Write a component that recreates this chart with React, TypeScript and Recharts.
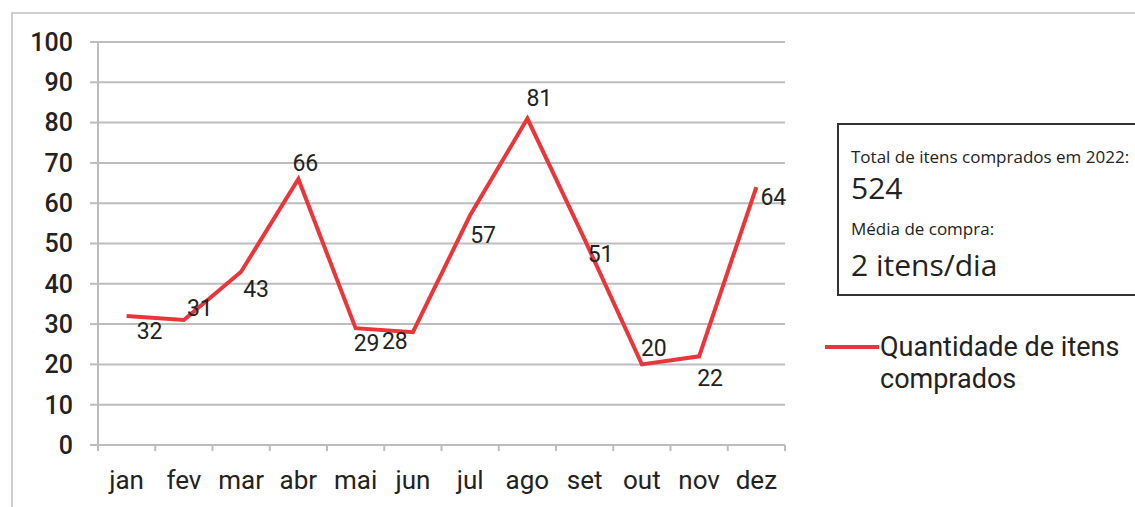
import { LineChart, Line, XAxis, YAxis, CartesianGrid, Legend, LabelList } from 'recharts';

const months = ['jan', 'fev', 'mar', 'abr', 'mai', 'jun', 'jul', 'ago', 'set', 'out', 'nov', 'dez'];
const quantities = [32, 31, 43, 66, 29, 28, 57, 81, 51, 20, 22, 64];
const yTicks = [0, 10, 20, 30, 40, 50, 60, 70, 80, 90, 100];

const seriesName = 'Quantidade de itens comprados';
const totalLabel = 'Total de itens comprados em 2022:';
const totalValue = '524';
const avgLabel = 'Média de compra:';
const avgValue = '2 itens/dia';

// label nudges (px) so the numbers sit where the original puts them
const LABEL_OFFSETS: [number, number][] = [
  [23, 15], [16, -12], [15, 18], [7, -16], [11, 15], [-18, 9],
  [13, 20], [12, -20], [16, 15], [12, -16], [11, 22], [17, 10],
];

const RED = '#e8363b';
const GRID = '#bdbdbd';
const FONT = 'Roboto, sans-serif';

const data = months.map((m, i) => ({ month: m, value: quantities[i] }));

const MonthTick = ({ x, y, payload, index }: any) => {
  const half = payload?.offset || 28.6;
  const last = index === months.length - 1;
  return (
    <g>
      <line x1={x - half} x2={x - half} y1={y - 8} y2={y - 2} stroke={GRID} strokeWidth={2} />
      {last && <line x1={x + half} x2={x + half} y1={y - 8} y2={y - 2} stroke={GRID} strokeWidth={2} />}
      <text x={x} y={y + 36} textAnchor="middle" fontFamily={FONT} fontSize={26} fill="#222">
        {payload.value}
      </text>
    </g>
  );
};

const ValueLabel = ({ x, y, value, index }: any) => {
  const [dx, dy] = LABEL_OFFSETS[index] || [0, 0];
  return (
    <text x={x + dx} y={y + dy} textAnchor="middle" dominantBaseline="central" fontFamily={FONT} fontSize={23} fill="#222">
      {value}
    </text>
  );
};

const LegendContent = () => (
  <div style={{ display: 'flex', alignItems: 'flex-start', fontFamily: FONT, fontSize: 27, color: '#222', lineHeight: '32px', whiteSpace: 'nowrap' }}>
    <div style={{ width: 54, height: 4, background: RED, marginTop: 14, marginRight: 1, flex: 'none' }} />
    <div>
      Quantidade de itens
      <br />
      comprados
    </div>
  </div>
);

export default function App() {
  return (
    <div style={{ position: 'fixed', left: 0, top: 0, width: 1135, height: 507, background: '#fff', overflow: 'hidden' }}>
      <div
        style={{
          position: 'absolute', left: 11, top: 12, width: 1200, height: 600,
          borderTop: '2px solid #cfcfcf', borderLeft: '2px solid #cfcfcf',
        }}
      />
      <LineChart
        width={1135}
        height={507}
        data={data}
        margin={{ top: 42, right: 350, bottom: 22, left: 0 }}
        style={{ position: 'absolute', left: 0, top: 0 }}
      >
        <CartesianGrid horizontal vertical={false} stroke={GRID} strokeWidth={2} />
        <XAxis
          dataKey="month"
          scale="band"
          height={40}
          axisLine={{ stroke: GRID, strokeWidth: 2 }}
          tickLine={false}
          interval={0}
          tick={<MonthTick />}
        />
        <YAxis
          width={98}
          domain={[0, 100]}
          ticks={yTicks}
          interval={0}
          axisLine={{ stroke: GRID, strokeWidth: 2 }}
          tickLine={{ stroke: GRID, strokeWidth: 2 }}
          tickSize={8}
          tickMargin={17}
          tick={{ fontFamily: FONT, fontSize: 25, fontWeight: 500, fill: '#222' }}
        />
        <Legend
          layout="horizontal"
          verticalAlign="middle"
          align="center"
          wrapperStyle={{ left: 825, top: 331, width: 310 }}
          content={<LegendContent />}
        />
        <Line
          type="linear"
          dataKey="value"
          name={seriesName}
          stroke={RED}
          strokeWidth={4}
          dot={false}
          activeDot={false}
          isAnimationActive={false}
        >
          <LabelList dataKey="value" content={<ValueLabel />} />
        </Line>
      </LineChart>
      <div
        style={{
          position: 'absolute', left: 837, top: 123, width: 320, height: 173,
          border: '2px solid #333', boxSizing: 'border-box', fontFamily: '"Open Sans", sans-serif', color: '#222',
          whiteSpace: 'nowrap',
        }}
      >
        <div style={{ position: 'absolute', left: 12, top: 22, fontSize: 17, lineHeight: '20px' }}>{totalLabel}</div>
        <div style={{ position: 'absolute', left: 12, top: 45, fontSize: 30, lineHeight: '36px' }}>{totalValue}</div>
        <div style={{ position: 'absolute', left: 12, top: 94, fontSize: 17, lineHeight: '20px' }}>{avgLabel}</div>
        <div style={{ position: 'absolute', left: 12, top: 122, fontSize: 30, lineHeight: '36px' }}>{avgValue}</div>
      </div>
    </div>
  );
}
